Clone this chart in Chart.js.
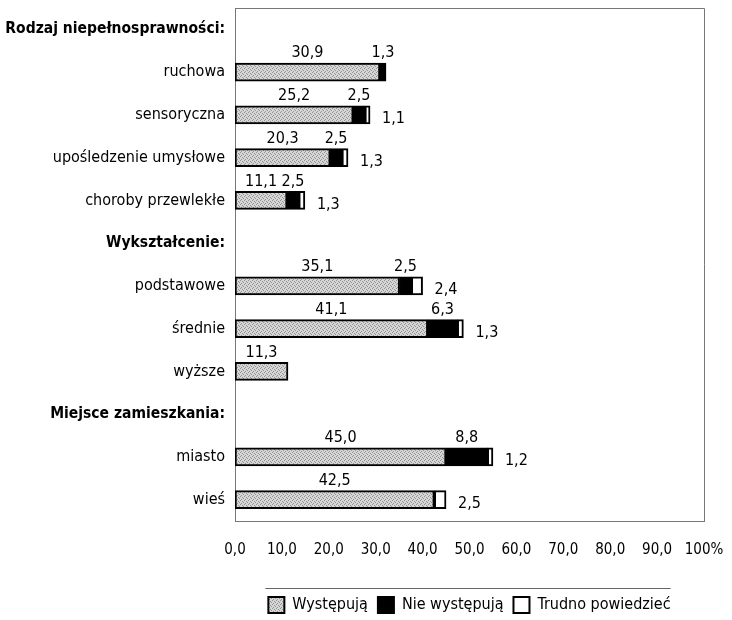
<!DOCTYPE html>
<html>
<head>
<meta charset="utf-8">
<script src="https://cdn.jsdelivr.net/npm/chart.js@4"></script>
<style>
  html, body { margin: 0; padding: 0; background: #fff; }
  #wrap { width: 732px; height: 620px; position: relative; }
</style>
</head>
<body>
<div id="wrap"><canvas id="chart"></canvas></div>
<script>
// categories (rows ending with ":" are group headers, no bars)
const categories = [
  'Rodzaj niepełnosprawności:', 'ruchowa', 'sensoryczna', 'upośledzenie umysłowe', 'choroby przewlekłe',
  'Wykształcenie:', 'podstawowe', 'średnie', 'wyższe',
  'Miejsce zamieszkania:', 'miasto', 'wieś'
];
const seriesNames = ['Występują', 'Nie występują', 'Trudno powiedzieć'];
const wystepuja    = [null, 30.9, 25.2, 20.3, 11.1, null, 35.1, 41.1, 11.3, null, 45.0, 42.5];
const nieWystepuja = [null, 1.3, 2.5, 2.5, 2.5, null, 2.5, 6.3, null, null, 8.8, null];
const trudno       = [null, null, 1.1, 1.3, 1.3, null, 2.4, 1.3, null, null, 1.2, 2.5];
const xTickLabels  = ['0,0', '10,0', '20,0', '30,0', '40,0', '50,0', '60,0', '70,0', '80,0', '90,0', '100%'];

const FONT = "'DejaVu Sans Condensed', 'DejaVu Sans', sans-serif";

// stippled grey fill like the print
function stipple() {
  let c = document.createElement('canvas');
  c.width = 4; c.height = 4;
  let g = c.getContext('2d');
  g.fillStyle = '#d6d6d6'; g.fillRect(0, 0, 4, 4);
  g.fillStyle = '#939393';
  [[0, 0], [2, 1], [1, 3], [3, 2]].forEach(p => g.fillRect(p[0], p[1], 1, 1));
  return g.createPattern(c, 'repeat');
}
const grey = stipple();

function fmt(v) { return v.toFixed(1).replace('.', ','); }

// value labels
const valueLabels = {
  id: 'valueLabels',
  afterDatasetsDraw(chart) {
    let ctx = chart.ctx;
    ctx.save();
    ctx.fillStyle = '#000';
    ctx.font = '16px ' + FONT;
    chart.data.datasets.forEach((ds, di) => {
      let meta = chart.getDatasetMeta(di);
      meta.data.forEach((bar, i) => {
        let v = ds.data[i];
        if (v == null) return;
        let top = bar.y - bar.height / 2;
        if (di < 2) {
          ctx.textAlign = 'center';
          ctx.textBaseline = 'bottom';
          ctx.fillText(fmt(v), (bar.x + bar.base) / 2, top - 2);
        } else {
          ctx.textAlign = 'left';
          ctx.textBaseline = 'middle';
          ctx.fillText(fmt(v), bar.x + 12, bar.y + 4);
        }
      });
    });
    ctx.restore();
  }
};

// top/right frame of plot area and rule above legend
const frame = {
  id: 'frame',
  beforeDatasetsDraw(chart) {
    let a = chart.chartArea, ctx = chart.ctx;
    ctx.save();
    ctx.strokeStyle = '#777';
    ctx.lineWidth = 1;
    ctx.beginPath();
    ctx.moveTo(a.left, a.top + 0.5);
    ctx.lineTo(a.right + 0.5, a.top + 0.5);
    ctx.lineTo(a.right + 0.5, a.bottom);
    ctx.stroke();
    ctx.restore();
  },
  afterDraw(chart) {
    let lg = chart.legend, boxes = lg.legendHitBoxes;
    if (!boxes || !boxes.length) return;
    let last = boxes[boxes.length - 1];
    let ctx = chart.ctx;
    ctx.save();
    ctx.strokeStyle = '#666';
    ctx.lineWidth = 1;
    ctx.beginPath();
    ctx.moveTo(boxes[0].left - 3, boxes[0].top - 8.5);
    ctx.lineTo(last.left + last.width, boxes[0].top - 8.5);
    ctx.stroke();
    ctx.restore();
  }
};

const barStyle = { borderColor: '#000', borderWidth: 2, borderSkipped: false, barThickness: 18 };

new Chart(document.getElementById('chart'), {
  type: 'bar',
  data: {
    labels: categories,
    datasets: [
      Object.assign({ label: seriesNames[0], data: wystepuja, backgroundColor: grey }, barStyle),
      Object.assign({ label: seriesNames[1], data: nieWystepuja, backgroundColor: '#000' }, barStyle),
      Object.assign({ label: seriesNames[2], data: trudno, backgroundColor: '#fff' }, barStyle)
    ]
  },
  options: {
    indexAxis: 'y',
    responsive: true,
    maintainAspectRatio: false,
    animation: false,
    layout: { padding: { top: 8, right: 28, bottom: -3, left: 0 } },
    scales: {
      x: {
        stacked: true,
        min: 0, max: 100,
        grid: { display: false },
        border: { display: true, color: '#777', width: 1 },
        afterFit: (s) => { s.height = 66; s.paddingRight = 0; s.paddingLeft = 0; },
        ticks: {
          stepSize: 10,
          padding: 12,
          color: '#000',
          font: { family: FONT, size: 15 },
          callback: (v, i) => xTickLabels[i]
        }
      },
      y: {
        stacked: true,
        grid: { display: false },
        border: { display: true, color: '#777', width: 1 },
        afterFit: (s) => { s.width = 235; s.paddingTop = 0; s.paddingBottom = 0; },
        ticks: {
          padding: 2,
          color: '#000',
          autoSkip: false,
          font: (c) => categories[c.index] && categories[c.index].endsWith(':')
            ? { family: FONT, size: 15.5, weight: 'bold' }
            : { family: FONT, size: 16, weight: 'normal' }
        }
      }
    },
    plugins: {
      tooltip: { enabled: false },
      legend: {
        position: 'bottom',
        fullSize: false,
        labels: {
          color: '#000',
          boxWidth: 16,
          boxHeight: 16,
          padding: 10,
          font: { family: FONT, size: 16 }
        }
      }
    }
  },
  plugins: [valueLabels, frame]
});
</script>
</body>
</html>
